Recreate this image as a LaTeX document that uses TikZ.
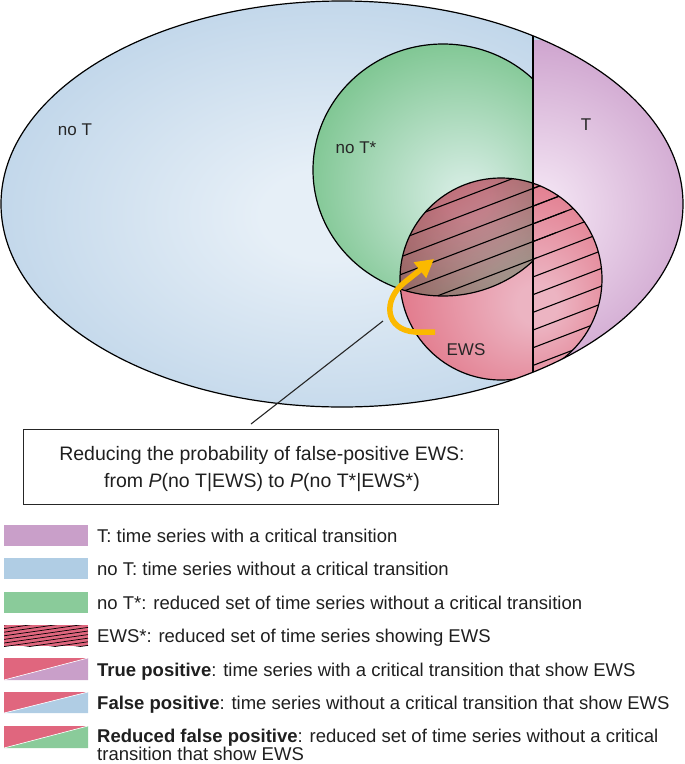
\documentclass[tikz,border=0pt]{standalone}
\usepackage{fontspec}
\setmainfont{Liberation Sans}
\usetikzlibrary{arrows.meta}
\definecolor{bluein}{RGB}{230,239,247}
\definecolor{blueout}{RGB}{146,183,217}
\definecolor{purpin}{RGB}{242,226,242}
\definecolor{purpout}{RGB}{180,118,180}
\definecolor{greenin}{RGB}{208,234,222}
\definecolor{greenout}{RGB}{90,182,112}
\definecolor{redin}{RGB}{236,180,194}
\definecolor{redout}{RGB}{220,88,108}
\definecolor{yel}{RGB}{251,185,0}
\definecolor{swT}{RGB}{201,159,201}
\definecolor{swB}{RGB}{176,205,228}
\definecolor{swG}{RGB}{138,203,154}
\definecolor{swR}{RGB}{224,102,126}
\pgfdeclareradialshading{blueshade}{\pgfpoint{0bp}{0bp}}{color(0bp)=(bluein); color(5bp)=(bluein); color(50bp)=(blueout)}
\pgfdeclareradialshading{purpshade}{\pgfpoint{0bp}{0bp}}{color(0bp)=(purpin); color(3bp)=(purpin); color(42bp)=(purpout); color(50bp)=(purpout)}
\pgfdeclareradialshading{greenshade}{\pgfpoint{5bp}{-6bp}}{color(0bp)=(greenin); color(4bp)=(greenin); color(40bp)=(greenout); color(50bp)=(greenout)}
\pgfdeclareradialshading{redshade}{\pgfpoint{10bp}{-7bp}}{color(0bp)=(redin); color(5bp)=(redin); color(44bp)=(redout); color(50bp)=(redout)}
\begin{document}
\begin{tikzpicture}[x=1pt,y=-1pt,
  outline/.style={draw=black, line width=1.2pt},
  hatchline/.style={black, line width=1.1pt},
  lbl/.style={font=\fontsize{17}{20}\selectfont, inner sep=0pt, text=black!85},
  legtext/.style={font=\fontsize{18.5}{22}\selectfont, anchor=base west, inner sep=0pt, text=black!88},
  calltext/.style={font=\fontsize{19.5}{23}\selectfont, anchor=base, inner sep=0pt, text=black!88}]
\useasboundingbox (0,0) rectangle (685,764);
\def\bigE{(342,204) ellipse [x radius=341pt, y radius=203pt]}
\def\greenE{(443,170) ellipse [x radius=130pt, y radius=126pt]}
\def\ewsC{(501,279) circle (101pt)}
% blue and purple
\begin{scope}
  \clip \bigE;
  \shade[shading=blueshade] (-15,-10) rectangle (675,440);
  \clip (533,-5) rectangle (700,420);
  \shade[shading=purpshade] (365,40) rectangle (705,380);
\end{scope}
% green
\begin{scope}
  \clip (0,-5) rectangle (533,420);
  \shade[shading=greenshade] \greenE;
\end{scope}
% EWS
\begin{scope}
  \clip \bigE;
  \shade[shading=redshade] \ewsC;
  \begin{scope}
    \clip \ewsC;
    \clip (0,-5) rectangle (533,420);
    \shade[shading=greenshade, blend mode=multiply, opacity=0.8] \greenE;
  \end{scope}
\end{scope}
% hatching EWS*
\begin{scope}
  \clip \ewsC;
  \clip \bigE;
  \begin{scope}
    \clip \greenE;
    \foreach \k in {-6,...,12} \draw[hatchline] (380,264.8+\k*17.7) -- (620,264.8+\k*17.7-92);
  \end{scope}
  \begin{scope}
    \clip (533,-5) rectangle (700,420);
    \foreach \k in {-6,...,12} \draw[hatchline] (380,264.8+\k*17.7) -- (620,264.8+\k*17.7-92);
  \end{scope}
\end{scope}
% outlines
\begin{scope}
  \clip (0,-5) rectangle (533,420);
  \draw[outline] \greenE;
\end{scope}
\begin{scope}
  \clip \bigE;
  \draw[outline] \ewsC;
  \draw[outline] (533,-5) -- (533,420);
\end{scope}
\draw[outline] \bigE;
% labels
\node[lbl] (noT) at (75,130) {no T};
\node[lbl] (T) at (586,125) {T};
\node[lbl] (noTs) at (356,148) {no T*};
\node[lbl] (ews) at (466,350) {EWS};
% yellow arrow
\coordinate (ys) at (435,332);
\coordinate (yt) at (434,259);
\draw[yel, line width=5.5pt, -{Triangle[length=18pt,width=19pt]}] (ys) -- (415,332) .. controls (385,330) and (382,300) .. (405,282) -- (yt);
% callout
\coordinate (cp) at (383,321);
\coordinate (ce) at (251,424);
\draw[line width=1.1pt, black!85] (cp) -- (ce);
\node[draw=black!85, line width=1.2pt, inner sep=0pt, minimum width=475pt, minimum height=75pt, anchor=north west] (box) at (23,429) {};
\node[calltext] (c1) at (262,460) {Reducing the probability of false-positive EWS:};
\node[calltext] (c2) at (262,487) {from \textit{P}(no T|EWS) to \textit{P}(no T*|EWS*)};
% legend swatches
\fill[swT] (4,525) rectangle (88,546);
\fill[swB] (4,558) rectangle (88,579);
\fill[swG] (4,592) rectangle (88,613);
\begin{scope}
  \clip (4,625) rectangle (88,646);
  \fill[swR] (4,625) rectangle (88,646);
  \foreach \k in {-2,...,12} \draw[black, line width=0.7pt] (4,625+\k*3.6) -- (88,625+\k*3.6-12);
\end{scope}
\fill[swR] (4,680) -- (4,658) -- (88,658) -- cycle;
\fill[swT] (4,680) -- (88,658) -- (88,680) -- cycle;
\draw[white, line width=0.6pt] (4,680) -- (88,658);
\fill[swR] (4,713) -- (4,692) -- (88,692) -- cycle;
\fill[swB] (4,713) -- (88,692) -- (88,713) -- cycle;
\draw[white, line width=0.6pt] (4,713) -- (88,692);
\fill[swR] (4,748) -- (4,726) -- (88,726) -- cycle;
\fill[swG] (4,748) -- (88,726) -- (88,748) -- cycle;
\draw[white, line width=0.6pt] (4,748) -- (88,726);
% legend text
\node[legtext] (t1) at (97,542) {T: time series with a critical transition};
\node[legtext] (t2) at (97,575) {no T: time series without a critical transition};
\node[legtext] (t3) at (97,609) {no T*: reduced set of time series without a critical transition};
\node[legtext] (t4) at (97,642) {EWS*: reduced set of time series showing EWS};
\node[legtext] (t5) at (97,676) {\textbf{True positive}: time series with a critical transition that show EWS};
\node[legtext] (t6) at (97,709) {\textbf{False positive}: time series without a critical transition that show EWS};
\node[legtext] (t7) at (97,742) {\textbf{Reduced false positive}: reduced set of time series without a critical};
\node[legtext] (t8) at (97,760) {transition that show EWS};
\end{tikzpicture}
\end{document}
